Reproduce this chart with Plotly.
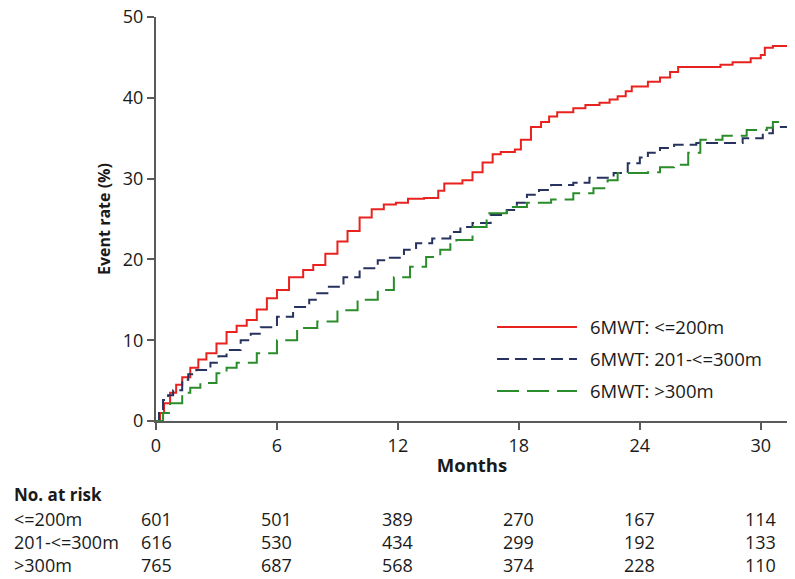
import plotly.graph_objects as go

# ---------------- data ----------------
red_t = [0, 0.2, 0.4, 0.7, 1.0, 1.3, 1.7, 2.1, 2.5, 3.0, 3.5, 4.0, 4.5, 5.0, 5.5, 6.0, 6.6, 7.3, 7.8,
         8.4, 9.0, 9.5, 10.1, 10.7, 11.3, 11.9, 12.5, 13.3, 14.0, 14.3, 15.2, 15.7, 16.2, 16.7, 17.1,
         17.8, 18.1, 18.6, 19.1, 19.5, 19.9, 20.7, 21.3, 22.0, 22.5, 22.9, 23.3, 23.6, 24.4, 25.0,
         25.5, 25.9, 28.0, 28.6, 29.5, 30.0, 30.2, 30.6, 31.35]
red_v = [0, 1.0, 2.2, 3.5, 4.5, 5.4, 6.6, 7.6, 8.4, 9.6, 11.0, 11.8, 12.5, 13.8, 15.2, 16.2, 17.8, 18.7, 19.3,
         20.7, 22.2, 23.5, 25.2, 26.2, 26.8, 27.0, 27.5, 27.6, 28.5, 29.4, 29.8, 30.8, 32.0, 33.0, 33.3,
         33.6, 34.8, 36.4, 37.0, 37.7, 38.2, 38.7, 39.1, 39.4, 39.8, 40.2, 40.8, 41.4, 42.0, 42.5,
         43.2, 43.8, 44.1, 44.4, 44.9, 45.3, 46.2, 46.4, 46.4]

blue_t = [0, 0.15, 0.35, 0.6, 0.85, 1.3, 1.6, 2.0, 2.7, 3.1, 3.5, 4.2, 4.7, 5.2, 6.0, 6.8, 7.6, 8.0, 8.5,
          9.3, 10.1, 11.0, 11.6, 12.3, 12.9, 13.7, 14.6, 15.1, 15.7, 16.6, 17.4, 17.9, 18.4, 19.0, 19.6,
          20.7, 21.5, 22.7, 23.4, 24.0, 24.4, 25.0, 25.7, 26.8, 29.1, 30.1, 30.6, 31.35]
blue_v = [0, 1.2, 2.6, 3.2, 3.8, 5.1, 5.8, 6.3, 7.2, 8.0, 8.8, 10.0, 10.8, 11.6, 12.9, 14.1, 15.0, 15.8, 16.6,
          17.8, 18.9, 19.9, 20.2, 21.2, 22.0, 22.6, 23.4, 24.0, 24.5, 25.5, 26.1, 27.0, 28.0, 28.6, 29.2,
          29.5, 30.1, 30.7, 31.9, 32.6, 33.2, 33.8, 34.2, 34.4, 35.0, 35.6, 36.4, 36.6]

green_t = [0, 0.35, 0.7, 1.3, 1.7, 2.2, 3.0, 3.5, 4.0, 5.0, 6.0, 7.0, 8.0, 9.0, 10.0, 11.0, 11.8, 12.6,
           13.4, 14.1, 14.6, 14.9, 15.7, 16.4, 17.4, 18.4, 19.6, 20.7, 21.7, 22.4, 22.9, 24.4, 25.0,
           25.7, 26.4, 27.0, 28.1, 29.3, 30.3, 30.6, 31.35]
green_v = [0, 1.0, 2.2, 3.5, 4.1, 4.7, 5.9, 6.6, 7.2, 8.4, 10.0, 11.5, 12.3, 13.7, 15.0, 16.2, 17.8, 19.1,
           20.3, 21.2, 22.2, 22.4, 24.0, 25.7, 26.5, 27.0, 27.4, 28.2, 28.8, 29.8, 30.7, 30.8, 31.4,
           31.7, 33.2, 34.8, 35.3, 36.0, 36.3, 37.0, 37.0]

series_names = ["6MWT: <=200m", "6MWT: 201-<=300m", "6MWT: >300m"]
risk_labels = ["<=200m", "201-<=300m", ">300m"]
risk_times = [0, 6, 12, 18, 24, 30]
risk_counts = [
    [601, 501, 389, 270, 167, 114],
    [616, 530, 434, 299, 192, 133],
    [765, 687, 568, 374, 228, 110],
]
x_ticks = [0, 6, 12, 18, 24, 30]
y_ticks = [0, 10, 20, 30, 40, 50]

# ---------------- styles ----------------
colors = ["#e8231f", "#27325e", "#2a8c2a"]
dashes = ["solid", "12px,6px", "22px,8px"]
FONT = "Open Sans"
TXT = "#1a1a1a"
AX = "#5a5a5a"

fig = go.Figure()
for t, v, c, d, n in zip([red_t, blue_t, green_t], [red_v, blue_v, green_v], colors, dashes, series_names):
    fig.add_trace(go.Scatter(x=t, y=v, mode="lines", line=dict(color=c, width=2, dash=d, shape="hv"),
                             name=n, showlegend=False, hoverinfo="skip"))

# legend (manual, to get long line samples)
leg_y = [0.2327, 0.1535, 0.0743]
for c, d, n, yy in zip(colors, dashes, series_names, leg_y):
    fig.add_shape(type="line", xref="paper", yref="paper", x0=0.5396, x1=0.6661, y0=yy, y1=yy,
                  line=dict(color=c, width=2, dash=d))
    fig.add_annotation(xref="paper", yref="paper", x=0.6835, y=yy, text=n, showarrow=False,
                       xanchor="left", yanchor="middle", font=dict(family=FONT, size=18.5, color=TXT))

# risk table
fig.add_annotation(xref="paper", yref="paper", x=-0.2278, y=-0.1807, text="<b>No. at risk</b>",
                   showarrow=False, xanchor="left", yanchor="middle", font=dict(family=FONT, size=17, color=TXT))
row_y = [-0.2426, -0.2995, -0.3564]
for lab, counts, yy in zip(risk_labels, risk_counts, row_y):
    fig.add_annotation(xref="paper", yref="paper", x=-0.2278, y=yy, text=lab, showarrow=False,
                       xanchor="left", yanchor="middle", font=dict(family=FONT, size=18, color=TXT))
    for tt, cnt in zip(risk_times, counts):
        fig.add_annotation(xref="x", yref="paper", x=tt, y=yy, text=str(cnt), showarrow=False,
                           xanchor="center", yanchor="middle", font=dict(family=FONT, size=18, color=TXT))

fig.update_layout(
    width=787, height=571,
    margin=dict(l=148, r=7, t=9, b=158),
    plot_bgcolor="white", paper_bgcolor="white",
    font=dict(family=FONT, size=17, color=TXT),
    showlegend=False,
)
fig.update_xaxes(range=[0, 31.35], tickvals=x_ticks, showgrid=False, zeroline=False, automargin=False,
                 showline=True, linecolor=AX, linewidth=2, ticks="outside", ticklen=7, tickwidth=2,
                 tickcolor=AX, tickfont=dict(family=FONT, size=18, color=TXT), ticklabeloverflow="allow",
                 title=dict(text="<b>Months</b>", font=dict(family=FONT, size=18.5, color=TXT), standoff=3))
fig.update_yaxes(range=[0, 50], tickvals=y_ticks, showgrid=False, zeroline=False, automargin=False,
                 showline=True, linecolor=AX, linewidth=2, ticks="outside", ticklen=7, tickwidth=2,
                 tickcolor=AX, tickfont=dict(family=FONT, size=18, color=TXT), ticklabeloverflow="allow",
                 title=dict(text="<b>Event rate (%)</b>", font=dict(family=FONT, size=16, color=TXT), standoff=8))

fig.write_html("out.html")
